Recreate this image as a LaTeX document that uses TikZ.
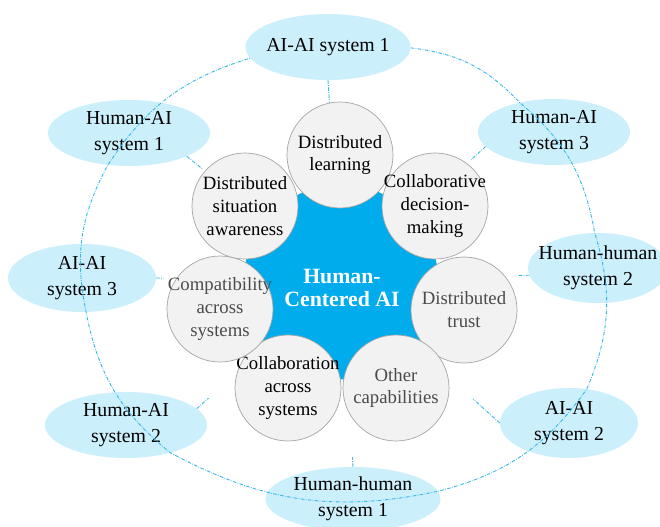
\documentclass[tikz,border=0pt]{standalone}
\usepackage{fontspec}
\setmainfont{Liberation Serif}
\usetikzlibrary{shapes.geometric}

\definecolor{skyfill}{RGB}{204,239,252}
\definecolor{skyline}{RGB}{50,182,236}
\definecolor{hubblue}{RGB}{0,172,236}
\definecolor{capfill}{RGB}{242,242,242}
\definecolor{capline}{RGB}{165,165,165}
\definecolor{captext}{RGB}{75,75,75}

\begin{document}
\begin{tikzpicture}[x=0.03cm, y=-0.03cm,
    sysnode/.style={ellipse, fill=skyfill, inner xsep=-6mm, inner ysep=-2mm,
        minimum width=4.86cm, minimum height=1.98cm, align=center,
        font=\fontsize{16.9}{22}\selectfont},
    capnode/.style={circle, draw=capline, line width=0.6pt, fill=capfill,
        inner sep=-3mm, minimum size=3.18cm, align=center,
        font=\fontsize{16}{19.6}\selectfont},
    link/.style={skyline, line width=0.75pt,
        dash pattern=on 3pt off 1.2pt on 0.6pt off 1.2pt}]
    \useasboundingbox (0,0) rectangle (660,527);

    % systems round the ring
    \node[sysnode, minimum width=4.95cm] (aa1) at (328,47) {AI-AI system 1};
    \node[sysnode, minimum width=4.56cm] (ha3) at (554,132) {Human-AI\\system 3};
    \node[sysnode, minimum width=4.2cm, minimum height=2.1cm] (hh2) at (598,268) {Human-human\\system 2};
    \node[sysnode, minimum width=4.14cm, minimum height=2.1cm] (aa2) at (569,423) {AI-AI\\system 2};
    \node[sysnode, minimum width=5.25cm, minimum height=1.92cm] (hh1) at (353,499) {Human-human\\system 1};
    \node[sysnode] (ha2) at (126,425) {Human-AI\\system 2};
    \node[sysnode, minimum width=4.44cm, minimum height=2.04cm] (aa3) at (82,278) {AI-AI\\system 3};
    \node[sysnode] (ha1) at (129,133) {Human-AI\\system 1};

    \draw[link] (aa1) to[bend left=20] (ha3) to[bend left=20] (hh2)
        to[bend left=20] (aa2) to[bend left=20] (hh1) to[bend left=20] (ha2)
        to[bend left=20] (aa3) to[bend left=20] (ha1) to[bend left=20] (aa1);

    % inner ring and hub
    \node[circle, link, minimum size=10.62cm, inner sep=0pt] (inner) at (341,280) {};
    \foreach \s/\a in {aa1/south, ha3/192, hh2/186, aa2/west, hh1/north, ha2/13, aa3/east, ha1/-22}
        \draw[link] (\s.\a) -- (inner);

    \node[regular polygon, regular polygon sides=7, fill=hubblue,
        minimum size=6.48cm, inner sep=0pt] (hub) at (341,282) {};

    \node[capnode] (learn) at (340,155) {Distributed\\learning};
    \node[capnode] (decide) at (435,206) {Collaborative\\decision-\\making};
    \node[capnode, text=captext] (trust) at (464,310) {Distributed\\trust};
    \node[capnode, text=captext] (other) at (396,388) {Other\\capabilities};
    \node[capnode] (collab) at (288,388) {Collaboration\\across\\systems};
    \node[capnode, text=captext] (compat) at (220,309) {Compatibility\\across\\systems};
    \node[capnode] (aware) at (245,206) {Distributed\\situation\\awareness};

    \node[text=white, align=center, font=\fontsize{18.6}{19.6}\selectfont\bfseries]
        (hubtext) at (342,288) {Human-\\Centered AI};
\end{tikzpicture}
\end{document}
